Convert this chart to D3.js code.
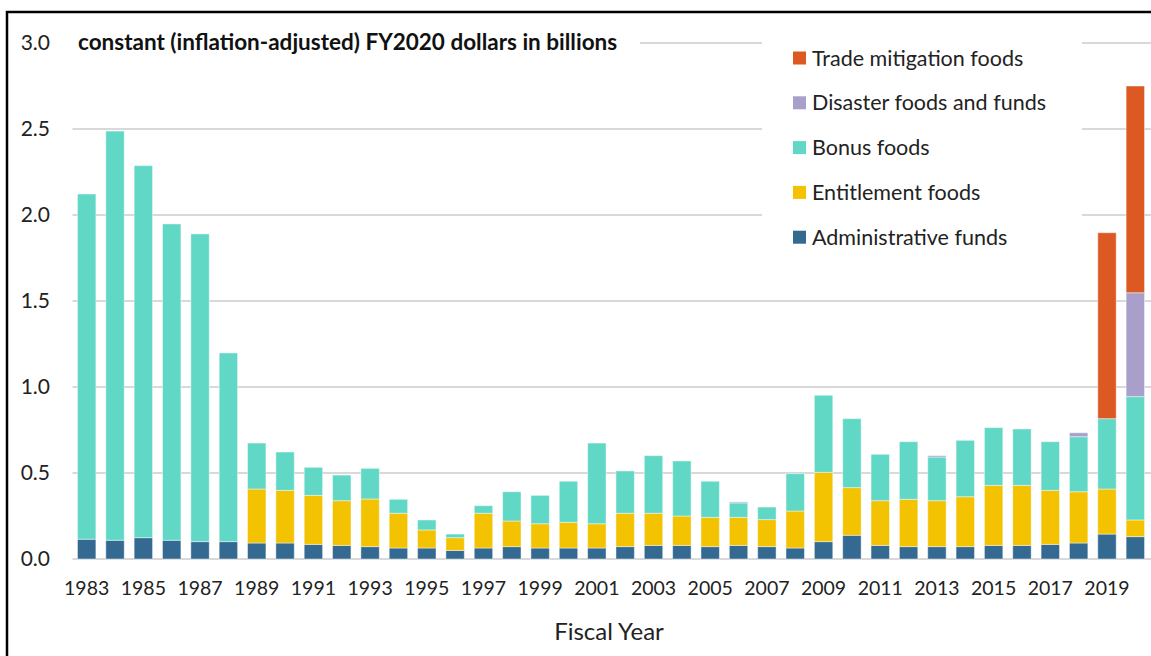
<!DOCTYPE html>
<html>
<head>
<meta charset="utf-8">
<script src="https://cdn.jsdelivr.net/npm/d3@7"></script>
<style>
  body { margin: 0; background: #fff; }
  svg { display: block; font-family: Lato, "Open Sans", sans-serif; }
</style>
</head>
<body>
<svg id="chart" width="1151" height="656"></svg>
<script>
// fiscal years, 1983 - 2020
let years = d3.range(1983, 2021)

// values in billions of FY2020 dollars
let adminFunds = [0.115, 0.109, 0.124, 0.109, 0.101, 0.101, 0.093, 0.093, 0.085, 0.079,
    0.072, 0.064, 0.064, 0.050, 0.064, 0.072, 0.064, 0.064, 0.064, 0.072,
    0.079, 0.079, 0.072, 0.079, 0.072, 0.064, 0.101, 0.138, 0.079, 0.072,
    0.072, 0.072, 0.079, 0.079, 0.085, 0.093, 0.145, 0.130]
let entitlementFoods = [0, 0, 0, 0, 0, 0, 0.314, 0.306, 0.285, 0.260,
    0.277, 0.202, 0.105, 0.074, 0.202, 0.149, 0.141, 0.149, 0.141, 0.194,
    0.187, 0.171, 0.170, 0.163, 0.157, 0.215, 0.403, 0.277, 0.260, 0.275,
    0.267, 0.290, 0.349, 0.349, 0.314, 0.298, 0.262, 0.097]
let bonusFoods = [2.007, 2.379, 2.163, 1.839, 1.789, 1.097, 0.267, 0.223, 0.163, 0.149,
    0.178, 0.081, 0.058, 0.021, 0.044, 0.170, 0.165, 0.239, 0.469, 0.246,
    0.335, 0.320, 0.210, 0.084, 0.073, 0.217, 0.448, 0.401, 0.270, 0.335,
    0.254, 0.328, 0.336, 0.328, 0.283, 0.320, 0.409, 0.717]
let disasterFoods = [0, 0, 0, 0, 0, 0, 0, 0, 0, 0,
    0, 0, 0, 0, 0, 0, 0, 0, 0, 0,
    0, 0, 0, 0.006, 0, 0, 0, 0, 0, 0,
    0.008, 0, 0, 0, 0, 0.023, 0, 0.604]
let tradeFoods = [0, 0, 0, 0, 0, 0, 0, 0, 0, 0,
    0, 0, 0, 0, 0, 0, 0, 0, 0, 0,
    0, 0, 0, 0, 0, 0, 0, 0, 0, 0,
    0, 0, 0, 0, 0, 0, 1.081, 1.202]

let seriesNames = ["Administrative funds", "Entitlement foods", "Bonus foods",
    "Disaster foods and funds", "Trade mitigation foods"]
let seriesColors = ["#346992", "#f3c200", "#61d8c5", "#a8a0cb", "#dc5923"]
let yTicks = [0, 0.5, 1.0, 1.5, 2.0, 2.5, 3.0]

let svg = d3.select("#chart")
let width = 1151, height = 656

// plot area
let padding = { left: 72.5, right: 1.5, top: 43, bottom: 97 }

// build rows for the stack
let rows = years.map(function(y, i) {
    return {
        year: y,
        "Administrative funds": adminFunds[i],
        "Entitlement foods": entitlementFoods[i],
        "Bonus foods": bonusFoods[i],
        "Disaster foods and funds": disasterFoods[i],
        "Trade mitigation foods": tradeFoods[i]
    }
})
let stacked = d3.stack().keys(seriesNames)(rows)

let xScale = d3.scaleBand()
    .domain(years)
    .range([padding.left, width - padding.right])
    .paddingInner(0.35)
    .paddingOuter(0.175)
let yScale = d3.scaleLinear()
    .domain([0, 3])
    .range([height - padding.bottom, padding.top])

// gridlines
svg.append("g")
    .selectAll("line")
    .data(yTicks)
    .enter()
    .append("line")
    .attr("x1", padding.left)
    .attr("x2", width)
    .attr("y1", d => yScale(d))
    .attr("y2", d => yScale(d))
    .attr("stroke", "#d9d9d9")
    .attr("stroke-width", 2)

// y tick labels
svg.append("g")
    .selectAll("text")
    .data(yTicks)
    .enter()
    .append("text")
    .attr("x", 50)
    .attr("y", d => yScale(d))
    .attr("dy", "0.35em")
    .attr("text-anchor", "end")
    .attr("font-size", 21)
    .attr("fill", "#222")
    .text(d => d3.format(".1f")(d))

// bars
svg.append("g")
    .selectAll("g")
    .data(stacked)
    .enter()
    .append("g")
    .attr("fill", (d, i) => seriesColors[i])
    .selectAll("rect")
    .data(d => d.filter(p => p[1] - p[0] > 0))
    .enter()
    .append("rect")
    .attr("x", d => xScale(d.data.year))
    .attr("width", xScale.bandwidth())
    .attr("y", d => yScale(d[1]))
    .attr("height", d => yScale(d[0]) - yScale(d[1]))
    .attr("stroke", "#ffffff")
    .attr("stroke-opacity", 0.45)
    .attr("stroke-width", 1)

// x tick labels, every other year
let xAxis = d3.axisBottom(xScale)
    .tickValues(years.filter(y => y % 2 == 1))
    .tickSize(0)
    .tickPadding(22)
let xg = svg.append("g")
    .attr("transform", `translate(0, ${height - padding.bottom})`)
    .call(xAxis)
xg.select(".domain").remove()
xg.selectAll("text")
    .attr("font-family", "Lato, 'Open Sans', sans-serif")
    .attr("font-size", 19.5)
    .attr("fill", "#222")

// axis title
svg.append("text")
    .attr("x", 609)
    .attr("y", 640)
    .attr("text-anchor", "middle")
    .attr("font-size", 24)
    .attr("fill", "#222")
    .text("Fiscal Year")

// chart title with white backing over the gridline
svg.append("rect")
    .attr("x", 72).attr("y", 28)
    .attr("width", 568).attr("height", 30)
    .attr("fill", "#fff")
svg.append("text")
    .attr("x", 78)
    .attr("y", 50)
    .attr("font-size", 22.5)
    .attr("font-weight", "bold")
    .attr("fill", "#111")
    .text("constant (inflation-adjusted) FY2020 dollars in billions")

// legend
let legend = svg.append("g")
legend.append("rect")
    .attr("x", 762).attr("y", 28)
    .attr("width", 320).attr("height", 234)
    .attr("fill", "#fff")
let legendOrder = seriesNames.slice().reverse()
let items = legend.selectAll(".legend-item")
    .data(legendOrder)
    .enter()
    .append("g")
    .attr("class", "legend-item")
    .attr("transform", (d, i) => `translate(793, ${58 + i * 44.8})`)
items.append("rect")
    .attr("x", 0).attr("y", -6.5)
    .attr("width", 13).attr("height", 13)
    .attr("fill", d => seriesColors[seriesNames.indexOf(d)])
items.append("text")
    .attr("x", 19)
    .attr("dy", "0.35em")
    .attr("font-size", 21.5)
    .attr("fill", "#222")
    .text(d => d)

// outer frame (only left and top edges fall inside the picture)
svg.append("rect")
    .attr("x", 7).attr("y", 12)
    .attr("width", 1170).attr("height", 670)
    .attr("fill", "none")
    .attr("stroke", "#000")
    .attr("stroke-width", 2.5)
</script>
</body>
</html>
